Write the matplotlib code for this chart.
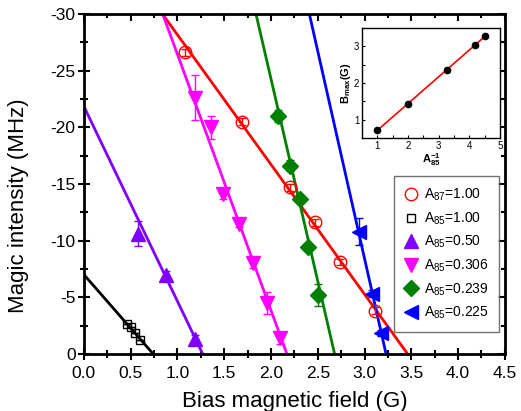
import numpy as np
import matplotlib
matplotlib.use('Agg')
import matplotlib.pyplot as plt

plt.rcParams['font.family'] = ['Liberation Sans', 'DejaVu Sans']
plt.rcParams['mathtext.fontset'] = 'custom'
plt.rcParams['mathtext.rm'] = 'Liberation Sans'
plt.rcParams['mathtext.it'] = 'Liberation Sans:italic'
plt.rcParams['mathtext.bf'] = 'Liberation Sans:bold'

# data
labels = [r'A$_{87}$=1.00', r'A$_{85}$=1.00', r'A$_{85}$=0.50',
          r'A$_{85}$=0.306', r'A$_{85}$=0.239', r'A$_{85}$=0.225']
colors = ['#ff0000', '#000000', '#8000ff', '#ff00ff', '#008000', '#0000ff']
markers = ['o', 's', '^', 'v', 'D', '<']

b_87_100 = [1.08, 1.69, 2.20, 2.47, 2.74, 3.11]
f_87_100 = [-26.6, -20.5, -14.7, -11.6, -8.1, -3.8]
e_87_100 = [0.3, 0.3, 0.3, 0.3, 0.3, 0.3]

b_85_100 = [0.46, 0.50, 0.545, 0.60]
f_85_100 = [-2.65, -2.35, -1.8, -1.2]
e_85_100 = [0.0, 0.0, 0.0, 0.0]

b_85_050 = [0.58, 0.88, 1.19]
f_85_050 = [-10.6, -7.0, -1.3]
e_85_050 = [1.1, 0.3, 0.4]

b_85_0306 = [1.19, 1.36, 1.49, 1.66, 1.81, 1.96, 2.10]
f_85_0306 = [-22.6, -20.0, -14.1, -11.5, -8.0, -4.5, -1.4]
e_85_0306 = [2.0, 1.0, 0.4, 0.3, 0.4, 1.0, 0.5]

b_85_0239 = [2.07, 2.20, 2.31, 2.40, 2.50]
f_85_0239 = [-21.0, -16.6, -13.7, -9.4, -5.2]
e_85_0239 = [0.5, 0.5, 0.3, 0.3, 1.0]

b_85_0225 = [2.94, 3.08, 3.18]
f_85_0225 = [-10.8, -5.3, -1.85]
e_85_0225 = [1.2, 0.3, 0.3]

# linear fits: field where intensity reaches 0, and slope (MHz/G)
fit_x0 = [3.46, 0.74, 1.27, 2.17, 2.68, 3.23]
fit_slope = [11.45, 9.46, 17.2, 22.6, 35.7, 36.6]

# inset
inv_a85 = [1.0, 2.0, 3.27, 4.18, 4.5]
b_max = [0.72, 1.44, 2.36, 3.03, 3.28]

xs = [b_87_100, b_85_100, b_85_050, b_85_0306, b_85_0239, b_85_0225]
ys = [f_87_100, f_85_100, f_85_050, f_85_0306, f_85_0239, f_85_0225]
es = [e_87_100, e_85_100, e_85_050, e_85_0306, e_85_0239, e_85_0225]
sizes = [9, 6, 10, 10, 8, 10]

fig = plt.figure(figsize=(5.21, 4.11), dpi=100)
ax = fig.add_axes([0.161, 0.139, 0.808, 0.827])

xx = np.linspace(0, 4.5, 200)
handles = []
for i in range(6):
    ax.plot(xx, fit_slope[i] * (xx - fit_x0[i]), color=colors[i], lw=2, zorder=2)
    ax.errorbar(xs[i], ys[i], yerr=es[i], fmt='none', ecolor=colors[i],
                elinewidth=1, capsize=3, capthick=1, zorder=3)
    filled = i >= 2
    h, = ax.plot(xs[i], ys[i], ls='none', marker=markers[i], ms=sizes[i],
                 mfc=colors[i] if filled else 'none', mec=colors[i],
                 mew=1.0, label=labels[i], zorder=4)
    handles.append(h)

ax.set_xlim(0, 4.5)
ax.set_ylim(0, -30)
xt = np.arange(0, 4.51, 0.5)
yt = np.arange(0, -30.1, -5)
ax.set_xticks(xt)
ax.set_xticks(np.arange(0.25, 4.5, 0.5), minor=True)
ax.set_yticks(yt)
ax.set_yticks(np.arange(-2.5, -30, -5), minor=True)
ax.set_xticklabels(['%.1f' % v for v in xt])
ax.set_yticklabels(['%d' % v for v in yt])
ax.tick_params(which='major', direction='inout', length=8, width=1.5, labelsize=12.5)
ax.tick_params(which='minor', direction='inout', length=6, width=1.5)
ax.tick_params(axis='x', which='major', pad=5)
ax.tick_params(axis='y', which='major', pad=2)
for s in ax.spines.values():
    s.set_linewidth(2)

# top and right: inward ticks, no labels
top = ax.secondary_xaxis('top')
top.set_xticks(xt)
top.set_xticks(np.arange(0.25, 4.5, 0.5), minor=True)
top.tick_params(which='both', direction='in', width=1.5, labeltop=False)
top.tick_params(which='major', length=5)
top.tick_params(which='minor', length=3)
right = ax.secondary_yaxis('right')
right.set_yticks(yt)
right.set_yticks(np.arange(-2.5, -30, -5), minor=True)
right.tick_params(which='both', direction='in', width=1.5, labelright=False)
right.tick_params(which='major', length=5)
right.tick_params(which='minor', length=3)

ax.set_xlabel('Bias magnetic field (G)', fontsize=16, labelpad=7)
ax.set_ylabel('Magic intensity (MHz)', fontsize=16, labelpad=4)
ax.yaxis.set_label_coords(-0.13, 0.435)

leg = ax.legend(handles=handles, loc='lower right', bbox_to_anchor=(0.986, 0.065),
                fontsize=10, frameon=True, fancybox=False, handletextpad=0.4,
                labelspacing=0.52, borderpad=0.75, handlelength=1.0,
                borderaxespad=0)
leg.get_frame().set_edgecolor('0.3')
leg.get_frame().set_linewidth(1)

# inset
ins = fig.add_axes([0.695, 0.664, 0.265, 0.268])
p = np.polyfit(inv_a85, b_max, 1)
ins.plot([inv_a85[0], inv_a85[-1]], np.polyval(p, [inv_a85[0], inv_a85[-1]]),
         color='#ff0000', lw=1.2)
ins.plot(inv_a85, b_max, 'o', color='k', ms=4.5)
ins.set_xlim(0.5, 5)
ins.set_ylim(0.5, 3.5)
ins.set_xticks([1, 2, 3, 4, 5])
ins.set_xticks([1.5, 2.5, 3.5, 4.5], minor=True)
ins.set_yticks([1, 2, 3])
ins.set_yticks([1.5, 2.5], minor=True)
ins.tick_params(which='both', direction='in', labelsize=7, length=2.5, width=0.8, pad=2)
for s in ins.spines.values():
    s.set_linewidth(1)
ins.set_xlabel(r'$\mathbf{A}_{\mathbf{85}}^{\mathbf{-1}}$', fontsize=8, labelpad=0)
ins.set_ylabel(r'$\mathbf{B}_{\mathbf{max}}$$\mathbf{(G)}$', fontsize=8, labelpad=1)

fig.savefig('out.png', dpi=100)
